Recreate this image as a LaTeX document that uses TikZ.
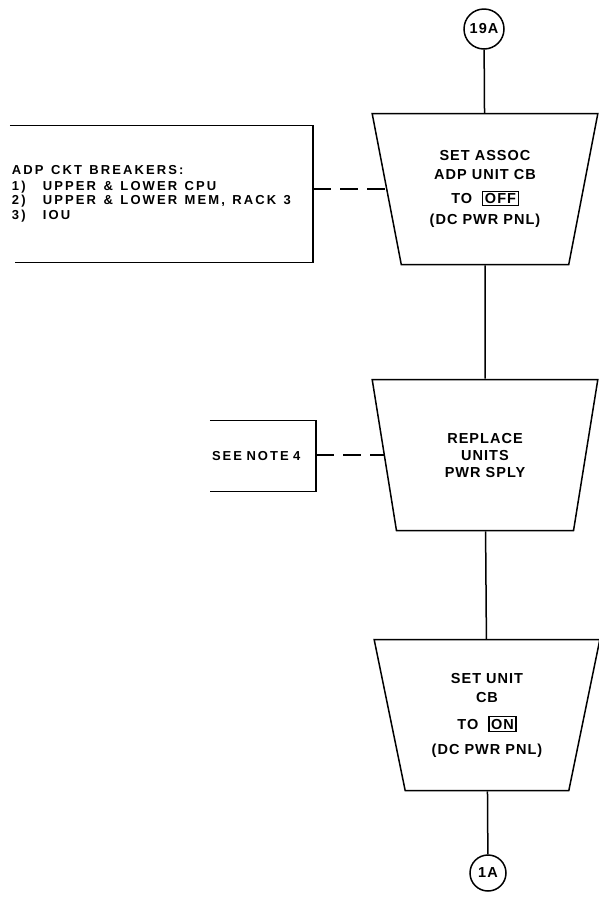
\documentclass[tikz,border=0pt]{standalone}
\usepackage{fontspec}
\newfontfamily\chartfont[LetterSpace=7]{Liberation Sans Bold}
\newfontfamily\notefont[LetterSpace=16]{Liberation Sans Bold}
\usetikzlibrary{positioning, shapes.geometric}

% boxed switch setting inside a step
\newcommand{\swset}[1]{{\setlength{\fboxrule}{1.2pt}\setlength{\fboxsep}{1.5pt}\fbox{#1}}}
% wider word gaps in the side notes
\newcommand{\notespacing}{\setlength{\spaceskip}{7.5pt}}

\tikzset{
  flow/.style={line width=1.5pt},
  link/.style={line width=1.5pt, dash pattern=on 18pt off 9pt},
  stepbox/.style={draw, line width=1.5pt, trapezium, trapezium angle=76,
    shape border rotate=180, trapezium stretches=true,
    minimum width=226pt, minimum height=151pt, align=center, inner sep=0pt},
  offpage/.style={draw, circle, line width=1.5pt, inner sep=0pt},
  notebox/.style={align=left, inner sep=2pt, anchor=center,
    font=\notefont\fontsize{13}{14.5}\selectfont},
}

\begin{document}
\begin{tikzpicture}[x=1pt, y=-1pt,
    font=\chartfont\fontsize{14.5}{19}\selectfont]
  \useasboundingbox (0,0) rectangle (598,898);

  % main flow
  \node[offpage, minimum size=40pt] (c19a) at (484,29) {19A};
  \node[stepbox] (step1) at (485,189)
    {SET ASSOC\\ADP UNIT CB\\[5pt]TO \ \swset{OFF}\\[2pt](DC PWR PNL)};
  \node[stepbox, font=\chartfont\fontsize{14.5}{17}\selectfont] (step2)
    at (485,455) {REPLACE\\UNITS\\PWR SPLY};
  \node[stepbox] (step3) at (487,715)
    {SET UNIT\\CB\\[8pt]TO \ \swset{ON}\\[6pt](DC PWR PNL)};
  \node[offpage, minimum size=36pt] (c1a) at (488,873) {1A};

  \draw[flow] (c19a) -- (step1);
  \draw[flow] (step1) -- (step2);
  \draw[flow] (step2) -- (step3);
  \draw[flow] (step3) -- (c1a);

  % side notes, open on the left
  \node[notebox, minimum width=303pt, minimum height=137pt, text width=299pt]
    (breakers) at (161.5,194)
    {\notespacing ADP CKT BREAKERS:\\[1pt]
     \makebox[31pt][l]{1)}UPPER \& LOWER CPU\\
     \makebox[31pt][l]{2)}UPPER \& LOWER MEM, RACK 3\\
     \makebox[31pt][l]{3)}IOU};
  \draw[flow] (breakers.north west) -- (breakers.north east)
    -- (breakers.south east) -- ([xshift=5pt]breakers.south west);

  \node[notebox, minimum width=106pt, minimum height=71pt, text width=102pt]
    (note4) at (263,456) {SEE NOTE 4};
  \draw[flow] (note4.north west) -- (note4.north east)
    -- (note4.south east) -- (note4.south west);

  \draw[link] (breakers.east |- step1.west) -- (step1.west);
  \draw[link] (note4.east |- step2.west) -- (step2.west);
\end{tikzpicture}
\end{document}
